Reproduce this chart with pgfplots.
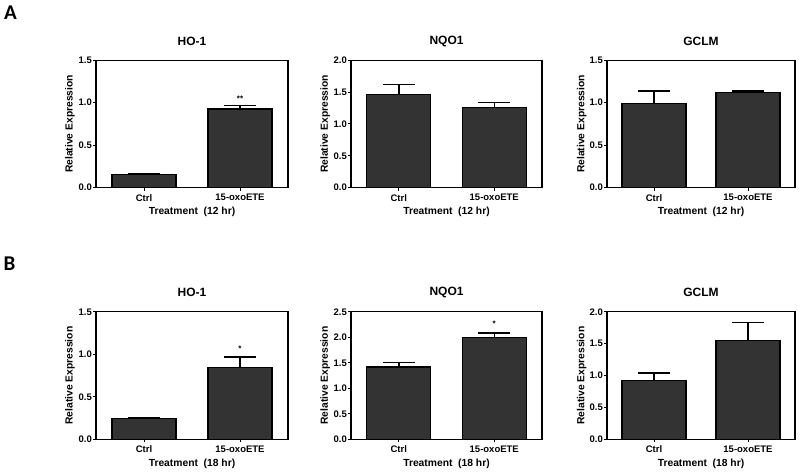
\documentclass[border=0pt]{standalone}
\usepackage{fontspec}
\setmainfont{Liberation Sans}
\newfontfamily\carlito{Carlito}
\usepackage{pgfplots}
\pgfplotsset{compat=1.18}
\usepackage{pgfplotstable}
\definecolor{barfill}{RGB}{51,51,51}

\pgfplotstableread{
x y err
0 0.160 0.000
1 0.926 0.040
}\AHO
\pgfplotstableread{
x y err
0 1.468 0.147
1 1.256 0.080
}\ANQO
\pgfplotstableread{
x y err
0 0.995 0.140
1 1.125 0.010
}\AGCLM
\pgfplotstableread{
x y err
0 0.248 0.000
1 0.845 0.123
}\BHO
\pgfplotstableread{
x y err
0 1.417 0.091
1 2.000 0.080
}\BNQO
\pgfplotstableread{
x y err
0 0.920 0.117
1 1.547 0.289
}\BGCLM

\pgfplotsset{
  panel/.style={
    scale only axis, height=127.5pt, anchor=south west,
    xmin=-0.5, xmax=1.5, ymin=0,
    xtick={0,1}, xticklabels={Ctrl,15-oxoETE},
    axis line style={line width=1.1pt},
    tick align=outside, tick pos=left,
    major tick length=3pt,
    tick style={line width=0.9pt, black},
    /pgf/number format/assume math mode=true,
    yticklabel style={/pgf/number format/fixed, /pgf/number format/fixed zerofill, /pgf/number format/precision=1, inner sep=1pt},
    ticklabel style={font=\fontsize{9.5}{11}\selectfont\bfseries},
    label style={font=\fontsize{10.3}{12}\selectfont\bfseries},
    ylabel={Relative Expression},
    ylabel style={at={(axis description cs:-0.135,0.5)}, anchor=center},
    xlabel style={at={(axis description cs:0.5,-0.192)}, anchor=center},
    title style={font=\fontsize{12}{14}\selectfont\bfseries, at={(axis description cs:0.5,1)}, anchor=center, yshift=13pt},
    ybar, bar width=64pt,
    error bars/y dir=plus, error bars/y explicit,
    error bars/error bar style={line width=1.5pt, black},
    error bars/error mark options={rotate=90, line width=1.5pt, black, mark size=16pt},
  },
  barplot/.style={fill=barfill, draw=black, line width=1.1pt},
}

\begin{document}
\begin{tikzpicture}
\useasboundingbox (0,0) rectangle (800pt,472pt);
\node[font=\fontsize{21}{24}\selectfont\bfseries\carlito] at (10.5pt,459pt) {A};
\node[font=\fontsize{21}{24}\selectfont\bfseries\carlito] at (9.5pt,208pt) {B};

% Row A
\begin{axis}[panel, at={(96pt,284.3pt)}, width=192pt, ymax=1.5, ytick={0,0.5,1,1.5},
  title={HO-1}, xlabel={Treatment\ \ (12 hr)}]
\addplot[barplot] table[x=x,y=y,y error=err]{\AHO};
\node[font=\fontsize{8}{9}\selectfont\bfseries] at (axis cs:1,1.05) {**};
\end{axis}
\begin{axis}[panel, at={(351pt,284.3pt)}, width=191pt, ymax=2, ytick={0,0.5,1,1.5,2},
  title={NQO1}, xlabel={Treatment\ \ (12 hr)}]
\addplot[barplot] table[x=x,y=y,y error=err]{\ANQO};
\end{axis}
\begin{axis}[panel, at={(607pt,284.3pt)}, width=188pt, ymax=1.5, ytick={0,0.5,1,1.5},
  title={GCLM}, xlabel={Treatment\ \ (12 hr)}]
\addplot[barplot] table[x=x,y=y,y error=err]{\AGCLM};
\end{axis}

% Row B
\begin{axis}[panel, at={(96pt,32.7pt)}, width=192pt, ymax=1.5, ytick={0,0.5,1,1.5},
  title={HO-1}, xlabel={Treatment\ \ (18 hr)}]
\addplot[barplot] table[x=x,y=y,y error=err]{\BHO};
\node[font=\fontsize{8}{9}\selectfont\bfseries] at (axis cs:1,1.07) {*};
\end{axis}
\begin{axis}[panel, at={(351pt,32.7pt)}, width=191pt, ymax=2.5, ytick={0,0.5,1,1.5,2,2.5},
  title={NQO1}, xlabel={Treatment\ \ (18 hr)}]
\addplot[barplot] table[x=x,y=y,y error=err]{\BNQO};
\node[font=\fontsize{8}{9}\selectfont\bfseries] at (axis cs:1,2.26) {*};
\end{axis}
\begin{axis}[panel, at={(607pt,32.7pt)}, width=188pt, ymax=2, ytick={0,0.5,1,1.5,2},
  title={GCLM}, xlabel={Treatment\ \ (18 hr)}]
\addplot[barplot] table[x=x,y=y,y error=err]{\BGCLM};
\end{axis}
\end{tikzpicture}
\end{document}
